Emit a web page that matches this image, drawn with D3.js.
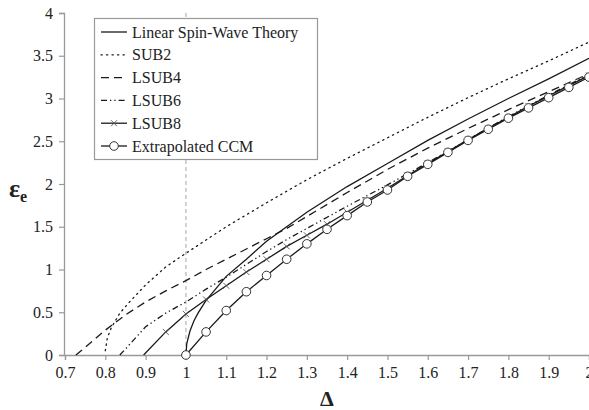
<!DOCTYPE html>
<html>
<head>
<meta charset="UTF-8">
<script src="https://cdn.jsdelivr.net/npm/d3@7"></script>
</head>
<body style="margin:0">
<svg width="589" height="410" style="font-family: 'Times New Roman', 'Liberation Serif'"></svg>
<script>
// values (Delta, epsilon_e)
var lswt = [[1.0,0],[1.002,0.13],[1.01,0.28],[1.02,0.40],[1.03,0.49],[1.05,0.64],[1.075,0.78],[1.1,0.92],
  [1.15,1.12],[1.2,1.33],[1.25,1.50],[1.3,1.67],[1.4,1.97],[1.5,2.24],[1.6,2.51],[1.7,2.76],[1.8,3.00],[1.9,3.23],[2.0,3.47]];
var sub2 = [[0.80,0.05],[0.805,0.2],[0.815,0.32],[0.836,0.49],[0.86,0.62],[0.9,0.82],[0.95,1.03],[1.0,1.19],
  [1.1,1.50],[1.2,1.78],[1.3,2.05],[1.4,2.30],[1.5,2.54],[1.6,2.78],[1.7,3.01],[1.8,3.23],[1.9,3.44],[2.0,3.66]];
var lsub4 = [[0.727,0],[0.75,0.09],[0.8,0.29],[0.85,0.47],[0.9,0.62],[0.95,0.75],[1.0,0.87],[1.05,1.00],[1.1,1.12],
  [1.15,1.24],[1.2,1.36],[1.25,1.48],[1.3,1.62],[1.4,1.90],[1.5,2.17],[1.6,2.42],[1.7,2.65],[1.8,2.87],[1.9,3.08],[2.0,3.29]];
var lsub6 = [[0.836,0],[0.85,0.07],[0.9,0.33],[0.95,0.49],[1.0,0.62],[1.05,0.77],[1.1,0.91],[1.15,1.06],[1.2,1.21],
  [1.25,1.35],[1.3,1.48],[1.4,1.74],[1.5,1.99],[1.6,2.25],[1.7,2.52],[1.8,2.79],[1.9,3.04],[2.0,3.28]];
var lsub8 = [[0.895,0],[0.95,0.27],[1.0,0.48],[1.05,0.65],[1.1,0.81],[1.15,0.97],[1.2,1.12],[1.25,1.27],[1.3,1.40],
  [1.35,1.53],[1.4,1.67],[1.45,1.81],[1.5,1.95],[1.55,2.10],[1.6,2.24],[1.65,2.38],[1.7,2.52],[1.75,2.65],[1.8,2.78],
  [1.85,2.91],[1.9,3.03],[1.95,3.15],[2.0,3.27]];
var ccm = [[1.0,0],[1.05,0.27],[1.1,0.52],[1.15,0.74],[1.2,0.93],[1.25,1.12],[1.3,1.30],[1.35,1.47],[1.4,1.63],
  [1.45,1.79],[1.5,1.93],[1.55,2.09],[1.6,2.23],[1.65,2.37],[1.7,2.51],[1.75,2.64],[1.8,2.77],[1.85,2.89],[1.9,3.01],
  [1.95,3.13],[2.0,3.25]];

var xTicks = [0.7,0.8,0.9,1,1.1,1.2,1.3,1.4,1.5,1.6,1.7,1.8,1.9,2];
var yTicks = [0,0.5,1,1.5,2,2.5,3,3.5,4];
var names = ["Linear Spin-Wave Theory","SUB2","LSUB4","LSUB6","LSUB8","Extrapolated CCM"];

var svg = d3.select("svg");
var x = d3.scaleLinear().domain([0.7, 2.0]).range([65, 589]);
var y = d3.scaleLinear().domain([0, 4]).range([355, 13]);

var series = [
  {data: lswt,  dash: null},
  {data: sub2,  dash: "1.3,4.2", cap: "round"},
  {data: lsub4, dash: "8,5"},
  {data: lsub6, dash: "6,3,1.3,3,1.3,3"},
  {data: lsub8, dash: null, mark: "x"},
  {data: ccm,   dash: null, mark: "o"}
];

// vertical reference at Delta = 1
svg.append("line")
  .attr("x1", x(1)).attr("x2", x(1))
  .attr("y1", y(4)).attr("y2", y(0))
  .attr("stroke", "#b5b5b5").attr("stroke-width", 1.2)
  .attr("stroke-dasharray", "4,3");

// axes (drop d3's default sans-serif so the svg font is inherited)
var xAxis = svg.append("g")
  .attr("transform", "translate(0," + y(0) + ")")
  .call(d3.axisBottom(x).tickValues(xTicks).tickSize(5).tickPadding(7).tickFormat(d3.format("")));
var yAxis = svg.append("g")
  .attr("transform", "translate(" + (x(0.7) - 1) + ",0)")
  .call(d3.axisLeft(y).tickValues(yTicks).tickSize(5).tickPadding(6).tickFormat(d3.format("")));
[xAxis, yAxis].forEach(function(a) {
  a.attr("font-family", null).attr("font-size", 16);
  a.select(".domain").attr("stroke", "#999").attr("stroke-width", 1.3);
  a.selectAll(".tick line").attr("stroke", "#999").attr("stroke-width", 1.2);
  a.selectAll(".tick text").attr("fill", "#222");
});

var line = d3.line()
  .x(function(d) { return x(d[0]); })
  .y(function(d) { return y(d[1]); });

series.forEach(function(s) {
  svg.append("path")
    .datum(s.data)
    .attr("fill", "none")
    .attr("stroke", "#1a1a1a")
    .attr("stroke-width", 1.3)
    .attr("stroke-linecap", s.cap || "butt")
    .attr("stroke-dasharray", s.dash)
    .attr("d", line);
  if (s.mark === "x") {
    svg.append("g").selectAll("path")
      .data(s.data.slice(1))
      .join("path")
      .attr("d", function(d) {
        var cx = x(d[0]), cy = y(d[1]);
        return "M" + (cx - 3) + "," + (cy - 3) + "L" + (cx + 3) + "," + (cy + 3) +
               "M" + (cx - 3) + "," + (cy + 3) + "L" + (cx + 3) + "," + (cy - 3);
      })
      .attr("stroke", "#555").attr("stroke-width", 0.9);
  }
  if (s.mark === "o") {
    svg.append("g").selectAll("circle")
      .data(s.data)
      .join("circle")
      .attr("cx", function(d) { return x(d[0]); })
      .attr("cy", function(d) { return y(d[1]); })
      .attr("r", 4.3)
      .attr("fill", "#fff")
      .attr("stroke", "#333").attr("stroke-width", 1);
  }
});

// legend
var lg = svg.append("g");
lg.append("rect")
  .attr("x", 94.5).attr("y", 18.5).attr("width", 223).attr("height", 141)
  .attr("fill", "#fff").attr("stroke", "#999").attr("stroke-width", 1.2);
names.forEach(function(n, i) {
  var s = series[i], ly = 32 + i * 22.8;
  lg.append("line")
    .attr("x1", 101).attr("x2", 127).attr("y1", ly).attr("y2", ly)
    .attr("stroke", "#1a1a1a").attr("stroke-width", 1.3)
    .attr("stroke-linecap", s.cap || "butt")
    .attr("stroke-dasharray", s.dash);
  if (s.mark === "x") {
    lg.append("path")
      .attr("d", "M" + 111 + "," + (ly - 3) + "L" + 117 + "," + (ly + 3) +
                 "M" + 111 + "," + (ly + 3) + "L" + 117 + "," + (ly - 3))
      .attr("stroke", "#555").attr("stroke-width", 0.9);
  }
  if (s.mark === "o") {
    lg.append("circle").attr("cx", 114).attr("cy", ly).attr("r", 4.3)
      .attr("fill", "#fff").attr("stroke", "#333");
  }
  lg.append("text")
    .attr("x", 132).attr("y", ly + 5.5)
    .attr("font-size", 16)
    .attr("fill", "#222")
    .text(n);
});

// axis titles
var yl = svg.append("text")
  .attr("x", 9).attr("y", 197)
  .attr("font-size", 26).attr("font-weight", "bold")
  .attr("fill", "#222");
yl.append("tspan").text("ε");
yl.append("tspan").attr("font-size", 16).attr("dy", 5).text("e");

svg.append("text")
  .attr("x", 327).attr("y", 406)
  .attr("text-anchor", "middle")
  .attr("font-size", 22).attr("font-weight", "bold")
  .attr("fill", "#222")
  .text("Δ");
</script>
</body>
</html>
